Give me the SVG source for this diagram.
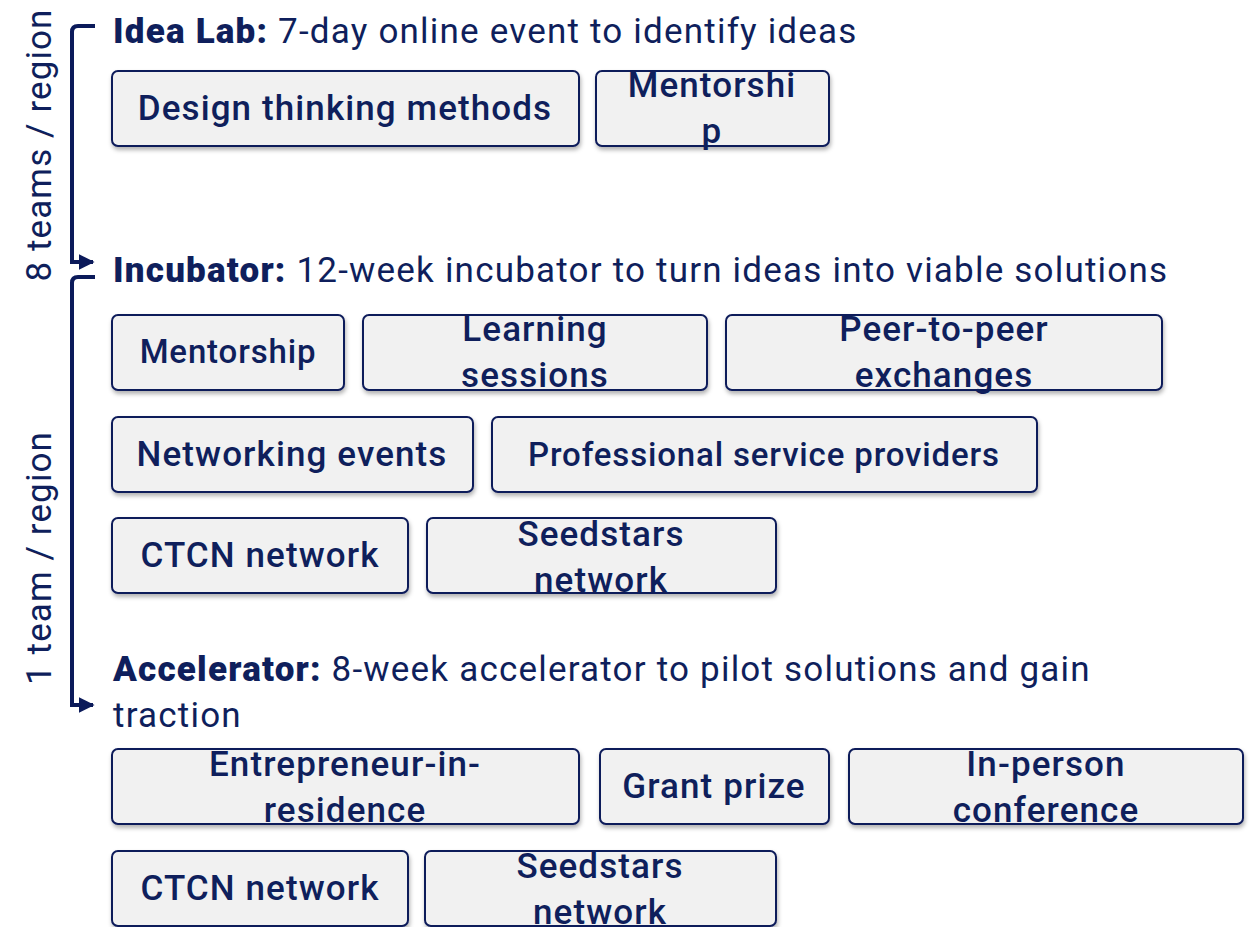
<svg xmlns="http://www.w3.org/2000/svg" width="1253" height="927" viewBox="0 0 1253 927">
<style>
text{font-family:Roboto,"Liberation Sans",sans-serif;fill:#0f1f5c;font-size:35px;letter-spacing:1.1px}
.t{letter-spacing:1.2px}
.b{font-weight:900;letter-spacing:1.2px}
.box rect{fill:#f1f1f1;stroke:#0b1a5a;stroke-width:2;filter:url(#sh)}
.box text{text-anchor:middle;font-weight:500}
.box text.s{font-size:33px;letter-spacing:0.85px}
.br{fill:none;stroke:#0b1a5a;stroke-width:4}
</style>
<defs>
<filter id="sh" x="-10%" y="-20%" width="120%" height="150%"><feDropShadow dx="1" dy="3" stdDeviation="2" flood-color="#000" flood-opacity="0.3"/></filter>
<marker id="ah" viewBox="0 0 10 10" refX="9" refY="5" markerWidth="4" markerHeight="4" markerUnits="strokeWidth" orient="auto"><path d="M0,0L10,5L0,10z" fill="#0b1a5a"/></marker>
</defs>
<g id="connectors">
<path class="br" d="M95,26H78Q72,26 72,32V262H93" marker-end="url(#ah)"/>
<path class="br" d="M95,277H78Q72,277 72,283V705H93" marker-end="url(#ah)"/>
</g>
<g id="labels">
<text transform="translate(51,145) rotate(-90)" text-anchor="middle">8 teams / region</text>
<text transform="translate(51,558) rotate(-90)" text-anchor="middle">1 team / region</text>
<text class="t" x="113" y="43"><tspan class="b">Idea Lab:</tspan> 7-day online event to identify ideas</text>
<text class="t" x="113" y="282"><tspan class="b">Incubator:</tspan> 12-week incubator to turn ideas into viable solutions</text>
<text class="t" x="113" y="681"><tspan class="b">Accelerator:</tspan> 8-week accelerator to pilot solutions and gain</text>
<text class="t" x="113" y="727">traction</text>
</g>
<g id="n1" class="box"><rect x="112" y="71" width="467" height="75" rx="6"/><text x="345" y="120">Design thinking methods</text></g>
<g id="n2" class="box"><rect x="596" y="71" width="233" height="75" rx="6"/><text x="712" y="97">Mentorshi</text><text x="712" y="143">p</text></g>
<g id="n3" class="box"><rect x="112" y="315" width="232" height="75" rx="6"/><text class="s" x="228" y="363">Mentorship</text></g>
<g id="n4" class="box"><rect x="363" y="315" width="344" height="75" rx="6"/><text x="535" y="341">Learning</text><text x="535" y="387">sessions</text></g>
<g id="n5" class="box"><rect x="726" y="315" width="436" height="75" rx="6"/><text x="944" y="341">Peer-to-peer</text><text x="944" y="387">exchanges</text></g>
<g id="n6" class="box"><rect x="112" y="417" width="361" height="75" rx="6"/><text x="292" y="466">Networking events</text></g>
<g id="n7" class="box"><rect x="492" y="417" width="545" height="75" rx="6"/><text class="s" x="764" y="466">Professional service providers</text></g>
<g id="n8" class="box"><rect x="112" y="518" width="296" height="75" rx="6"/><text x="260" y="567">CTCN network</text></g>
<g id="n9" class="box"><rect x="427" y="518" width="349" height="75" rx="6"/><text x="601" y="546">Seedstars</text><text x="601" y="592">network</text></g>
<g id="n10" class="box"><rect x="112" y="749" width="467" height="75" rx="6"/><text x="345" y="776">Entrepreneur-in-</text><text x="345" y="822">residence</text></g>
<g id="n11" class="box"><rect x="600" y="749" width="229" height="75" rx="6"/><text x="714" y="798">Grant prize</text></g>
<g id="n12" class="box"><rect x="849" y="749" width="394" height="75" rx="6"/><text x="1046" y="776">In-person</text><text x="1046" y="822">conference</text></g>
<g id="n13" class="box"><rect x="112" y="851" width="296" height="75" rx="6"/><text x="260" y="900">CTCN network</text></g>
<g id="n14" class="box"><rect x="425" y="851" width="351" height="75" rx="6"/><text x="600" y="878">Seedstars</text><text x="600" y="924">network</text></g>
</svg>
